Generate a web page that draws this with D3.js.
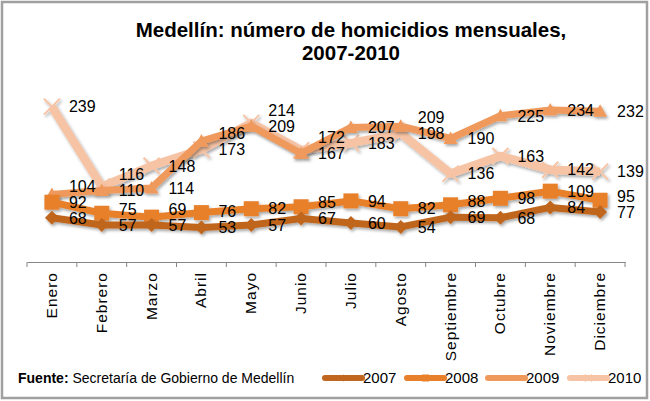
<!DOCTYPE html>
<html>
<head>
<meta charset="utf-8">
<script src="https://cdn.jsdelivr.net/npm/d3@7"></script>
<style>
  html, body { margin: 0; padding: 0; background: #fff; }
  svg { display: block; font-family: "Liberation Sans", Arial, sans-serif; }
</style>
</head>
<body>
<svg id="chart" width="650" height="401"></svg>
<script>
const months = ["Enero","Febrero","Marzo","Abril","Mayo","Junio","Julio","Agosto","Septiembre","Octubre","Noviembre","Diciembre"];
const years = ["2007","2008","2009","2010"];
const v2007 = [68,57,57,53,57,67,60,54,69,68,84,77];
const v2008 = [92,75,69,76,82,85,94,82,88,98,109,95];
const v2009 = [104,110,114,186,209,167,207,209,190,225,234,232];
const v2010 = [239,116,148,173,214,172,183,198,136,163,142,139];
const seriesColors = ["#C0661F","#E8802B","#EF9A5C","#F6C3A5"];
const markers = ["diamond","square","triangle","cross"];
const titleLines = ["Medellín: número de homicidios mensuales,","2007-2010"];
const sourceBold = "Fuente:";
const sourceText = "Secretaría de Gobierno de Medellín";

const series = years.map((y, i) => ({
  name: y,
  values: [v2007, v2008, v2009, v2010][i],
  color: seriesColors[i],
  marker: markers[i]
}));

const svg = d3.select("#chart");
const W = 650, H = 401;

// frame
svg.append("rect").attr("x", 2).attr("y", 2).attr("width", W - 5).attr("height", H - 5)
  .attr("fill", "#fff").attr("stroke", "#A0A0A0").attr("stroke-width", 2.5);

// shadow filter
const defs = svg.append("defs");
const f = defs.append("filter").attr("id", "sh").attr("x", "-20%").attr("y", "-20%").attr("width", "140%").attr("height", "160%");
f.append("feDropShadow").attr("dx", 1.5).attr("dy", 2).attr("stdDeviation", 1.5)
  .attr("flood-color", "#000").attr("flood-opacity", 0.35);

// title
svg.append("text").attr("x", 351).attr("text-anchor", "middle")
  .attr("font-weight", "bold").attr("font-size", 20.5).attr("fill", "#000")
  .selectAll("tspan").data(titleLines).join("tspan")
  .attr("x", 351).attr("y", (d, i) => 37 + i * 23).text(d => d);

const x = d3.scaleBand().domain(months).range([27, 625]);
const cx = m => x(m) + x.bandwidth() / 2;
const y = d3.scaleLinear().domain([0, 300]).range([262, 67]);

// axis
const ax = svg.append("g").attr("transform", "translate(0,262)")
  .call(d3.axisBottom(x).tickSize(0).tickFormat(""));
ax.select(".domain").attr("stroke", "#868686").attr("stroke-width", 1);
const tickPos = months.map(m => x(m)).concat([x.range()[1]]);
ax.selectAll("line.tk").data(tickPos).join("line").attr("class", "tk")
  .attr("x1", d => d).attr("x2", d => d).attr("y1", 0).attr("y2", 5)
  .attr("stroke", "#868686").attr("stroke-width", 1);

svg.append("g").selectAll("text").data(months).join("text")
  .attr("transform", m => `translate(${cx(m) + 5},272) rotate(-90)`)
  .attr("text-anchor", "end").attr("font-size", 15.5).attr("letter-spacing", 1)
  .attr("fill", "#000").text(m => m);

// marker path generator
function markerPath(type, s) {
  const h = s / 2;
  if (type === "diamond") return `M0,${-h}L${h},0L0,${h}L${-h},0Z`;
  if (type === "square") return `M${-h},${-h}H${h}V${h}H${-h}Z`;
  if (type === "triangle") return `M0,${-h}L${h},${h * 0.8}L${-h},${h * 0.8}Z`;
  return `M${-h},${-h}L${h},${h}M${h},${-h}L${-h},${h}`;
}
const mSize = { diamond: 14, square: 15, triangle: 14, cross: 16 };

const line = d3.line().x((d, i) => cx(months[i])).y(d => y(d));
const plot = svg.append("g");
series.slice().reverse().forEach(s => {
  const g = plot.append("g").attr("filter", "url(#sh)");
  g.append("path").attr("d", line(s.values)).attr("fill", "none")
    .attr("stroke", s.color).attr("stroke-width", s.marker === "cross" ? 8.5 : 7)
    .attr("stroke-linejoin", "round");
  g.selectAll("path.mk").data(s.values).join("path").attr("class", "mk")
    .attr("transform", (d, i) => `translate(${cx(months[i])},${y(d)})`)
    .attr("d", markerPath(s.marker, mSize[s.marker]))
    .attr("fill", s.marker === "cross" ? "none" : s.color)
    .attr("stroke", s.color)
    .attr("stroke-width", s.marker === "cross" ? 2 : 0);
});

// data labels with simple per-month collision avoidance (push upper labels up)
const gap = 16;
const labels = [];
months.forEach((m, i) => {
  const col = series.map(s => ({ v: s.values[i], x: cx(m) + 17, y: y(s.values[i]) }))
    .sort((a, b) => b.y - a.y);
  for (let k = 1; k < col.length; k++) {
    if (col[k - 1].y - col[k].y < gap) col[k].y = col[k - 1].y - gap;
  }
  labels.push(...col);
});
svg.append("g").attr("font-size", 16).attr("fill", "#000")
  .selectAll("text").data(labels).join("text")
  .attr("x", d => d.x).attr("y", d => d.y).attr("dy", "0.36em")
  .text(d => d.v);

// source
const src = svg.append("text").attr("x", 18).attr("y", 383).attr("font-size", 14).attr("fill", "#000");
src.append("tspan").attr("font-weight", "bold").text(sourceBold);
src.append("tspan").text(" " + sourceText);

// legend
const legX = [325, 407, 488, 570];
const leg = svg.append("g");
series.forEach((s, i) => {
  const g = leg.append("g").attr("transform", `translate(${legX[i]},378)`);
  g.append("line").attr("x1", 0).attr("x2", 37).attr("y1", 0).attr("y2", 0)
    .attr("stroke", s.color).attr("stroke-width", 6).attr("stroke-linecap", "round");
  g.append("path").attr("transform", "translate(18.5,0)")
    .attr("d", markerPath(s.marker, 7))
    .attr("fill", s.marker === "cross" ? "none" : s.color)
    .attr("stroke", s.color).attr("stroke-width", s.marker === "cross" ? 1.5 : 0);
  g.append("text").attr("x", 38).attr("y", 0).attr("dy", "0.36em")
    .attr("font-size", 15).attr("fill", "#000").text(s.name);
});
</script>
</body>
</html>
